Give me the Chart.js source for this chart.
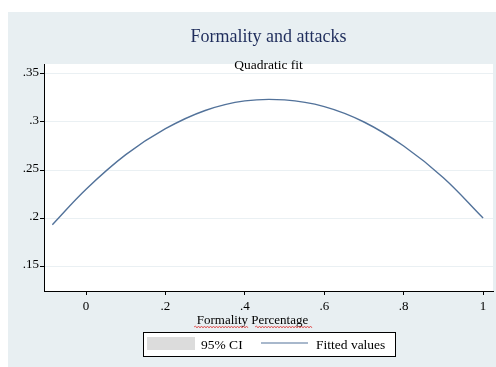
<!DOCTYPE html>
<html>
<head>
<meta charset="utf-8">
<script src="https://cdn.jsdelivr.net/npm/chart.js@4/dist/chart.umd.min.js"></script>
<style>
  html, body { margin: 0; padding: 0; background: #fff; }
</style>
</head>
<body>
<canvas id="myChart" width="496" height="367"></canvas>
<script>
// values
var formality = [-0.085, 0, 0.1, 0.2, 0.3, 0.4, 0.5, 0.6, 0.7, 0.8, 0.9, 1.0];
var fitted = [0.193, 0.230, 0.266, 0.293, 0.312, 0.322, 0.323, 0.316, 0.300, 0.275, 0.242, 0.200];
var xTicks = [0, 0.2, 0.4, 0.6, 0.8, 1];
var yTicks = [0.15, 0.2, 0.25, 0.3, 0.35];
var seriesLabels = ['95% CI', 'Fitted values'];
var xTitle = 'Formality Percentage';

var serif = '"Liberation Serif", "Times New Roman", serif';
Chart.defaults.font.family = serif;
Chart.defaults.font.size = 13;
Chart.defaults.color = '#000';

// stata style: .35 instead of 0.35
function stataLabel(v) {
    var s = String(Math.round(v * 100) / 100);
    return s.replace(/^0\./, '.');
}

var points = [];
for (var i = 0; i < formality.length; i++) {
    points[i] = { x: formality[i], y: fitted[i] };
}

var backdrop = {
    id: 'backdrop',
    beforeDraw: function(chart) {
        var ctx = chart.ctx, a = chart.chartArea;
        ctx.save();
        ctx.fillStyle = '#fff';
        ctx.fillRect(0, 0, chart.width, chart.height);
        ctx.fillStyle = '#e8eff2';
        ctx.fillRect(8, 12, chart.width - 8, chart.height - 12);
        ctx.fillStyle = '#fff';
        ctx.fillRect(a.left, a.top, a.right - a.left, a.bottom - a.top);
        ctx.restore();
    }
};

function squiggle(ctx, x0, x1, y) {
    ctx.beginPath();
    ctx.moveTo(x0, y);
    var up = true;
    for (var x = x0 + 1.5; x <= x1; x += 1.5) {
        ctx.lineTo(x, up ? y - 1 : y + 1);
        up = !up;
    }
    ctx.stroke();
}

var legendBox = {
    id: 'legendBox',
    afterDraw: function(chart) {
        var ctx = chart.ctx;
        var ds = chart.data.datasets;
        ctx.save();
        // axis title sits left of the plot centre in the original
        ctx.fillStyle = '#000';
        ctx.font = '13px ' + serif;
        ctx.textAlign = 'center';
        ctx.textBaseline = 'middle';
        ctx.fillText(xTitle, 252.5, 321);

        // spell-check marks under the axis title
        ctx.strokeStyle = '#e04040';
        ctx.lineWidth = 0.8;
        squiggle(ctx, 194, 249, 327);
        squiggle(ctx, 255, 312, 327);

        ctx.fillStyle = '#fff';
        ctx.fillRect(143.5, 332.5, 252, 24);
        ctx.strokeStyle = '#000';
        ctx.lineWidth = 1;
        ctx.strokeRect(143.5, 332.5, 252, 24);
        ctx.fillStyle = ds[0].backgroundColor;
        ctx.fillRect(147, 337, 48, 13);
        ctx.strokeStyle = ds[1].borderColor;
        ctx.lineWidth = 1.2;
        ctx.beginPath();
        ctx.moveTo(261, 343);
        ctx.lineTo(308, 343);
        ctx.stroke();
        ctx.fillStyle = '#000';
        ctx.textAlign = 'left';
        ctx.font = '13.5px ' + serif;
        ctx.fillText(ds[0].label, 201, 345);
        ctx.fillText(ds[1].label, 316, 345);
        ctx.restore();
    }
};

new Chart(document.getElementById('myChart'), {
    type: 'line',
    data: {
        datasets: [
            {
                label: seriesLabels[0],
                data: [],
                backgroundColor: '#dcdcdc',
                borderColor: '#dcdcdc'
            },
            {
                label: seriesLabels[1],
                data: points,
                borderColor: '#52729a',
                borderWidth: 1.4,
                pointRadius: 0,
                fill: false,
                tension: 0.4
            }
        ]
    },
    options: {
        responsive: false,
        animation: false,
        events: [],
        layout: { padding: { left: 0, top: 0, right: 3, bottom: 0 } },
        plugins: {
            legend: { display: false },
            tooltip: { enabled: false },
            title: {
                display: true,
                fullSize: false,
                text: 'Formality and attacks',
                color: '#1f2d5c',
                font: { family: serif, size: 18, weight: 'normal', lineHeight: 1 },
                padding: { top: 28, bottom: 0 }
            },
            subtitle: {
                display: true,
                fullSize: false,
                text: 'Quadratic fit',
                color: '#000',
                font: { family: serif, size: 13.5, lineHeight: 1 },
                padding: { top: 12.5, bottom: -8 }
            }
        },
        scales: {
            x: {
                type: 'linear',
                min: -0.106,
                max: 1.025,
                afterBuildTicks: function(scale) {
                    scale.ticks = xTicks.map(function(v) { return { value: v }; });
                },
                afterFit: function(scale) { scale.height = 76; },
                ticks: {
                    padding: 4,
                    maxRotation: 0,
                    autoSkip: false,
                    callback: function(v) { return stataLabel(v); }
                },
                grid: { drawOnChartArea: false, tickLength: 4, tickColor: '#000' },
                border: { color: '#000', width: 1 }
            },
            y: {
                min: 0.124,
                max: 0.3604,
                afterBuildTicks: function(scale) {
                    scale.ticks = yTicks.map(function(v) { return { value: v }; });
                },
                afterFit: function(scale) { scale.width = 44; },
                ticks: {
                    padding: 1,
                    labelOffset: -1,
                    autoSkip: false,
                    callback: function(v) { return stataLabel(v); }
                },
                grid: { color: '#eaf0f3', lineWidth: 1, tickLength: 4, tickColor: '#000' },
                border: { color: '#000', width: 1 }
            }
        }
    },
    plugins: [backdrop, legendBox]
});
</script>
</body>
</html>
